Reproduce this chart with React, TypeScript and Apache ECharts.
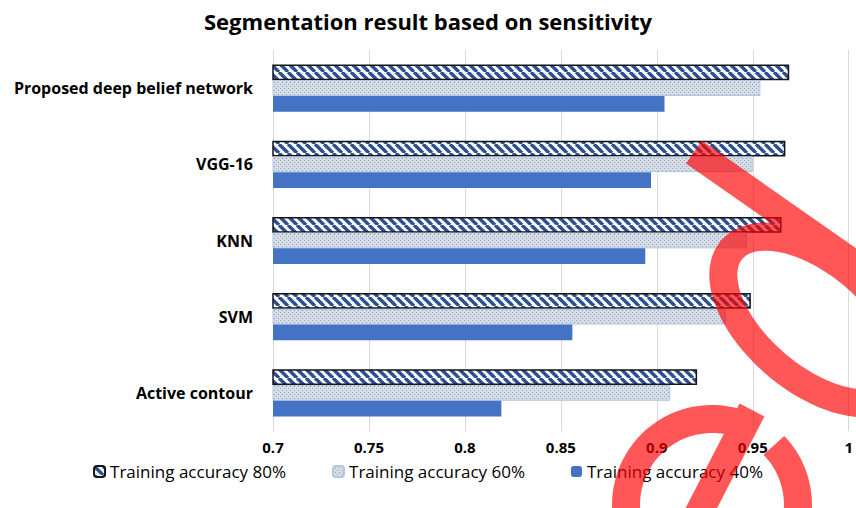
import React, { useEffect, useRef } from 'react';
import * as echarts from 'echarts';

const categories = ['Proposed deep belief network', 'VGG-16', 'KNN', 'SVM', 'Active contour'];
const seriesNames = ['Training accuracy 80%', 'Training accuracy 60%', 'Training accuracy 40%'];
const acc80 = [0.969, 0.967, 0.965, 0.949, 0.921];
const acc60 = [0.954, 0.95, 0.947, 0.936, 0.907];
const acc40 = [0.904, 0.897, 0.894, 0.856, 0.819];
const xTicks = [0.7, 0.75, 0.8, 0.85, 0.9, 0.95, 1];

const FONT = '"Open Sans", sans-serif';

function hatchPattern() {
  const s = 9;
  const c = document.createElement('canvas');
  c.width = s;
  c.height = s;
  const ctx = c.getContext('2d')!;
  ctx.fillStyle = '#ffffff';
  ctx.fillRect(0, 0, s, s);
  ctx.strokeStyle = '#2c4f93';
  ctx.lineWidth = 3.4;
  for (const k of [-1, 0, 1]) {
    ctx.beginPath();
    ctx.moveTo(k * s, 0);
    ctx.lineTo(k * s + s, s);
    ctx.stroke();
  }
  return { image: c.toDataURL(), repeat: 'repeat', imageWidth: s, imageHeight: s };
}

function dotPattern() {
  const s = 4;
  const c = document.createElement('canvas');
  c.width = s;
  c.height = s;
  const ctx = c.getContext('2d')!;
  ctx.fillStyle = '#d6dde6';
  ctx.fillRect(0, 0, s, s);
  ctx.fillStyle = '#93a4ba';
  ctx.fillRect(0, 0, 1, 1);
  ctx.fillRect(2, 2, 1, 1);
  return { image: c.toDataURL(), repeat: 'repeat', imageWidth: s, imageHeight: s };
}

// decorative watermark (red stamp overlay) built as one stroked path
function arcPath(cx: number, cy: number, a: number, b: number, rotDeg: number, t0: number, t1: number, n: number) {
  const r = (rotDeg * Math.PI) / 180;
  let d = '';
  for (let i = 0; i <= n; i++) {
    const t = ((t0 + ((t1 - t0) * i) / n) * Math.PI) / 180;
    const x = cx + a * Math.cos(t) * Math.cos(r) - b * Math.sin(t) * Math.sin(r);
    const y = cy + a * Math.cos(t) * Math.sin(r) + b * Math.sin(t) * Math.cos(r);
    d += (i === 0 ? 'M' : 'L') + x.toFixed(1) + ' ' + y.toFixed(1) + ' ';
  }
  return d;
}

const watermarkD =
  'M694 152 L910 303 ' +
  arcPath(815, 320, 109, 59, 40, 0, 360, 90) + 'Z ' +
  arcPath(712, 505, 86, 86, 0, 95, 300, 60) +
  arcPath(712, 505, 86, 86, 0, 316, 400, 30) +
  'M752 410 L690 530';

let registered = false;

export default function App() {
  const ref = useRef<HTMLDivElement>(null);
  useEffect(() => {
    if (!ref.current) return;
    if (!registered) {
      echarts.graphic.registerShape('wm', echarts.graphic.extendPath(watermarkD, {}));
      registered = true;
    }
    const chart = echarts.init(ref.current, null, { renderer: 'svg' });
    const hatch = hatchPattern();
    const dots = dotPattern();
    chart.setOption({
      animation: false,
      backgroundColor: '#ffffff',
      textStyle: { fontFamily: FONT },
      title: {
        text: 'Segmentation result based on sensitivity',
        left: 'center',
        top: 5,
        textStyle: { fontFamily: FONT, fontSize: 22, fontWeight: 'bold', color: '#000' },
      },
      legend: {
        data: seriesNames,
        top: 463,
        padding: 0,
        left: 'center',
        itemWidth: 11,
        itemHeight: 11,
        itemGap: 46,
        textStyle: { fontFamily: FONT, fontSize: 17, lineHeight: 16, color: '#000' },
      },
      grid: { left: 273, right: 1, top: 50, bottom: 77, containLabel: false },
      xAxis: {
        type: 'value',
        min: xTicks[0],
        max: xTicks[xTicks.length - 1],
        interval: 0.05,
        axisLine: { show: false },
        axisTick: { show: false },
        axisLabel: {
          fontFamily: FONT,
          fontSize: 15,
          lineHeight: 15,
          fontWeight: 'bold',
          color: '#000',
          margin: 8,
          formatter: (v: number) => String(parseFloat(v.toFixed(2))),
        },
        splitLine: { show: true, lineStyle: { color: '#d9d9d9', width: 1 } },
      },
      yAxis: {
        type: 'category',
        data: categories,
        inverse: true,
        axisLine: { show: false },
        axisTick: { show: false },
        axisLabel: { fontFamily: FONT, fontSize: 16, fontWeight: 'bold', color: '#000', margin: 20 },
      },
      series: [
        {
          name: seriesNames[0],
          type: 'bar',
          data: acc80,
          barGap: '0%',
          barCategoryGap: '38%',
          itemStyle: { color: hatch, borderColor: '#151515', borderWidth: 1.5 },
        },
        {
          name: seriesNames[1],
          type: 'bar',
          data: acc60,
          barGap: '0%',
          barCategoryGap: '38%',
          itemStyle: { color: dots, borderColor: '#b4c6e2', borderWidth: 1 },
        },
        {
          name: seriesNames[2],
          type: 'bar',
          data: acc40,
          barGap: '0%',
          barCategoryGap: '38%',
          itemStyle: { color: '#4472c4' },
        },
      ],
      graphic: [
        {
          type: 'wm',
          x: 0,
          y: 0,
          silent: true,
          z: 100,
          style: { fill: 'none', stroke: '#ff0000', lineWidth: 28, opacity: 0.66 },
        },
      ],
    });
    return () => chart.dispose();
  }, []);
  return (
    <div
      ref={ref}
      style={{ position: 'fixed', left: 0, top: 0, width: 856, height: 508 }}
    />
  );
}
